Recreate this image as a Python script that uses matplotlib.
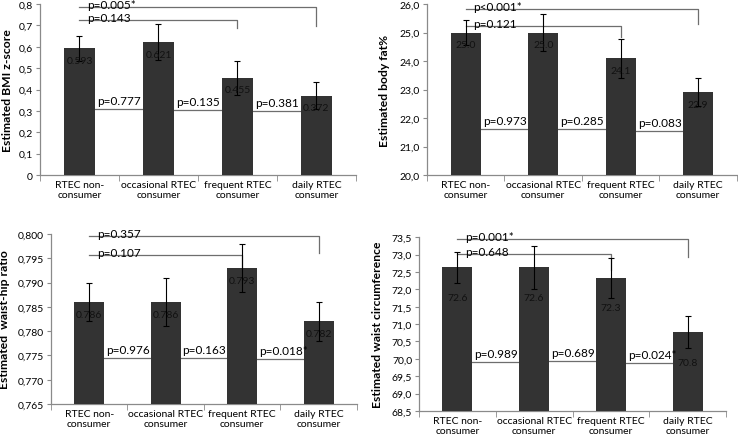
import matplotlib
matplotlib.use("Agg")
import matplotlib.pyplot as plt
from matplotlib.ticker import FuncFormatter

plt.rcParams["font.family"] = ["Lato", "DejaVu Sans"]

categories = ["RTEC non-\nconsumer", "occasional RTEC\nconsumer",
              "frequent RTEC\nconsumer", "daily RTEC\nconsumer"]

# BMI z-score
bmi = [0.593, 0.621, 0.455, 0.372]
bmi_err = [0.058, 0.084, 0.080, 0.063]
bmi_labels = ["0.593", "0.621", "0.455", "0.372"]
bmi_adj_p = ["p=0.777", "p=0.135", "p=0.381"]
bmi_adj_level = [0.309, 0.305, 0.300]
bmi_br_p = ["p=0.143", "p=0.005*"]
bmi_br_top = [0.727, 0.784]
bmi_br_end = [0.688, 0.699]

# body fat %
fat = [25.0, 25.0, 24.1, 22.9]
fat_err = [0.43, 0.64, 0.69, 0.49]
fat_labels = ["25.0", "25.0", "24.1", "22.9"]
fat_adj_p = ["p=0.973", "p=0.285", "p=0.083"]
fat_adj_level = [21.63, 21.63, 21.56]
fat_br_p = ["p=0.121", "p<0.001*"]
fat_br_top = [25.22, 25.84]
fat_br_end = [24.83, 25.30]

# waist-hip ratio
whr = [0.786, 0.786, 0.793, 0.782]
whr_err = [0.004, 0.005, 0.005, 0.004]
whr_labels = ["0.786", "0.786", "0.793", "0.782"]
whr_adj_p = ["p=0.976", "p=0.163", "p=0.018*"]
whr_adj_level = [0.7745, 0.7745, 0.7742]
whr_br_p = ["p=0.107", "p=0.357"]
whr_br_top = [0.7957, 0.7995]
whr_br_end = [0.7931, 0.7960]

# waist circumference
waist = [72.63, 72.63, 72.33, 70.77]
waist_err = [0.44, 0.61, 0.58, 0.45]
waist_labels = ["72.6", "72.6", "72.3", "70.8"]
waist_adj_p = ["p=0.989", "p=0.689", "p=0.024*"]
waist_adj_level = [69.90, 69.94, 69.89]
waist_br_p = ["p=0.648", "p=0.001*"]
waist_br_top = [73.02, 73.45]
waist_br_end = [72.56, 72.92]

br_target = [2, 3]

BAR = "#333333"
LINE = "#6e6e6e"
AXIS = "#8a8a8a"


def comma_fmt(decimals, zero_plain=False):
    def f(v, pos):
        if zero_plain and abs(v) < 1e-12:
            return "0"
        return f"{v:.{decimals}f}".replace(".", ",")
    return FuncFormatter(f)


def draw_panel(ax, values, errors, labels, ylim, ystep, decimals, ylabel,
               adj_p, adj_level, br_p, br_top, br_end, label_off, zero_plain=False):
    x = list(range(len(values)))
    ax.bar(x, [v - ylim[0] for v in values], bottom=ylim[0], width=0.39,
           color=BAR, zorder=3)
    ax.errorbar(x, values, yerr=errors, fmt="none", ecolor="black",
                elinewidth=0.8, capsize=2.2, capthick=0.8, zorder=4)
    for xi, v, lab in zip(x, values, labels):
        ax.annotate(lab, (xi, v), xytext=(0, -label_off), textcoords="offset pixels",
                    ha="center", va="center", fontsize=7.5, color="#111111", zorder=5)
    # adjacent comparisons
    for i, (p, lvl) in enumerate(zip(adj_p, adj_level)):
        ax.plot([i, i + 1], [lvl, lvl], color=LINE, lw=0.9, zorder=2)
        ax.annotate(p, (i + 0.22, lvl), xytext=(0, 3), textcoords="offset pixels",
                    ha="left", va="bottom", fontsize=8.5, color="black", zorder=5)
    # brackets from the first group
    for p, top, end, t in zip(br_p, br_top, br_end, br_target):
        ax.plot([0, t, t], [top, top, end], color=LINE, lw=0.9, zorder=2,
                clip_on=False)
        ax.annotate(p, (0.1, top), xytext=(0, -1), textcoords="offset pixels",
                    ha="left", va="baseline", fontsize=8.5, color="black", zorder=5,
                    annotation_clip=False)
    ax.set_xlim(-0.5, len(values) - 0.5)
    ax.set_ylim(*ylim)
    n = int(round((ylim[1] - ylim[0]) / ystep))
    ax.set_yticks([ylim[0] + k * ystep for k in range(n + 1)])
    ax.yaxis.set_major_formatter(comma_fmt(decimals, zero_plain))
    ax.set_xticks(x)
    ax.set_xticklabels(categories, fontsize=7.5)
    ax.set_xticks([i - 0.5 for i in range(len(values) + 1)], minor=True)
    ax.tick_params(axis="x", which="major", length=0, pad=3.5)
    ax.tick_params(axis="x", which="minor", length=4, color=AXIS, direction="out")
    ax.tick_params(axis="y", length=3, color=AXIS, labelsize=7.5, pad=2)
    for s in ("top", "right"):
        ax.spines[s].set_visible(False)
    for s in ("left", "bottom"):
        ax.spines[s].set_color(AXIS)
        ax.spines[s].set_linewidth(0.9)
    ax.set_ylabel(ylabel, fontsize=8.7, fontweight="bold")


fig = plt.figure(figsize=(7.38, 4.39), dpi=100)
ax1 = fig.add_axes([0.0542, 0.599, 0.428, 0.3895])
ax2 = fig.add_axes([0.5786, 0.599, 0.420, 0.3895])
ax3 = fig.add_axes([0.0691, 0.0774, 0.4146, 0.3872])
ax4 = fig.add_axes([0.5678, 0.0615, 0.416, 0.396])

draw_panel(ax1, bmi, bmi_err, bmi_labels, (0, 0.8), 0.1, 1, "Estimated BMI z-score",
           bmi_adj_p, bmi_adj_level, bmi_br_p, bmi_br_top, bmi_br_end, 12, zero_plain=True)
draw_panel(ax2, fat, fat_err, fat_labels, (20.0, 26.0), 1.0, 1, "Estimated body fat%",
           fat_adj_p, fat_adj_level, fat_br_p, fat_br_top, fat_br_end, 12)
draw_panel(ax3, whr, whr_err, whr_labels, (0.765, 0.800), 0.005, 3, "Estimated  waist-hip ratio",
           whr_adj_p, whr_adj_level, whr_br_p, whr_br_top, whr_br_end, 12)
draw_panel(ax4, waist, waist_err, waist_labels, (68.5, 73.5), 0.5, 1, "Estimated waist circumference",
           waist_adj_p, waist_adj_level, waist_br_p, waist_br_top, waist_br_end, 30)

ax1.yaxis.set_label_coords(-0.085, 0.5)
ax2.yaxis.set_label_coords(-0.119, 0.5)
ax3.yaxis.set_label_coords(-0.134, 0.5)
ax4.yaxis.set_label_coords(-0.117, 0.5)

fig.savefig("out.png", dpi=100)
